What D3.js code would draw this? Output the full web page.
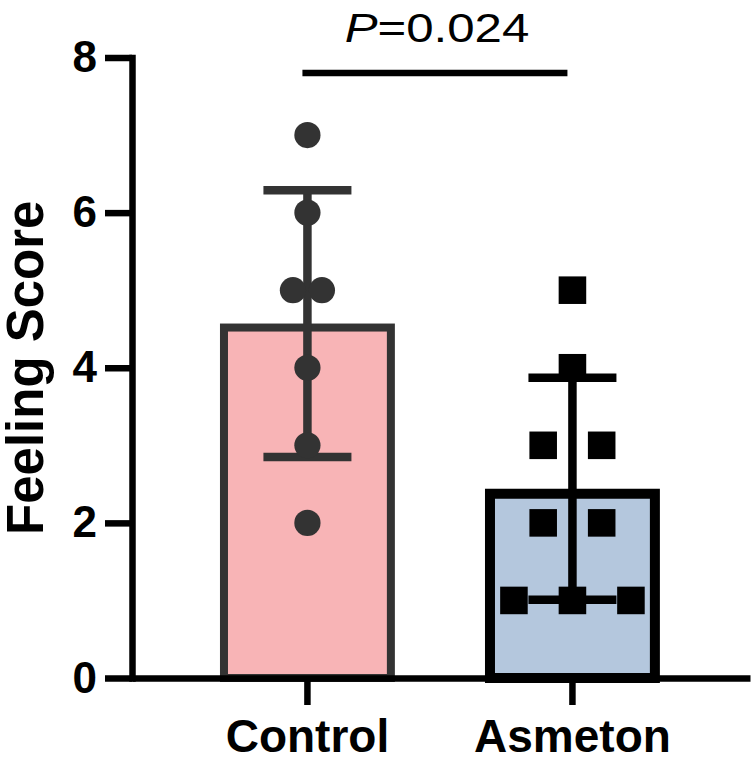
<!DOCTYPE html>
<html>
<head>
<meta charset="utf-8">
<script src="https://cdn.jsdelivr.net/npm/d3@7"></script>
<style>
  body { margin: 0; background: #fff; }
</style>
</head>
<body>
<div id="chart"></div>
<script>
// Data
const categories = ['Control', 'Asmeton']
const means = [4.57, 2.44]
const sds = [1.72, 1.43]
const controlScores = [7, 6, 5, 5, 4, 3, 2]
const asmetonScores = [5, 4, 3, 3, 2, 2, 1, 1, 1]
const yTicks = [0, 2, 4, 6, 8]
const pLabel = '=0.024'

// Styles per group
const styles = [
  { fill: '#f8b4b6', stroke: '#333333', strokeWidth: 8, symbol: d3.symbolCircle, size: 540, spread: 29 },
  { fill: '#b4c7dd', stroke: '#000000', strokeWidth: 10, symbol: d3.symbolSquare, size: 760, spread: 58.5 }
]

const width = 755
const height = 760
const font = '"Liberation Sans", Arial, sans-serif'

const svg = d3.select('#chart')
  .append('svg')
  .attr('width', width)
  .attr('height', height)
  .style('font-family', font)

// Scales
const yScale = d3.scaleLinear().domain([0, 8]).range([678, 57.5])
const xScale = d3.scaleBand()
  .domain(categories)
  .range([132, 750])
  .paddingInner(0.34)
  .paddingOuter(0.336)
  .align(0.494)

const groups = categories.map((c, i) => ({
  name: c,
  mean: means[i],
  sd: sds[i],
  scores: i === 0 ? controlScores : asmetonScores,
  style: styles[i]
}))

// Bars (stroke drawn inside the bar outline)
svg.append('g').selectAll('rect')
  .data(groups)
  .join('rect')
  .attr('x', d => xScale(d.name) + d.style.strokeWidth / 2)
  .attr('y', d => yScale(d.mean) + d.style.strokeWidth / 2)
  .attr('width', d => xScale.bandwidth() - d.style.strokeWidth)
  .attr('height', d => yScale(0) - yScale(d.mean) - d.style.strokeWidth / 2)
  .style('fill', d => d.style.fill)
  .style('stroke', d => d.style.stroke)
  .style('stroke-width', d => d.style.strokeWidth)

// Error bars (mean +/- SD)
const capHalf = 44
const gErr = svg.append('g')
groups.forEach(d => {
  const cx = xScale(d.name) + xScale.bandwidth() / 2
  const top = yScale(d.mean + d.sd)
  const bot = yScale(d.mean - d.sd)
  const g = gErr.append('g')
    .style('stroke', d.style.stroke)
    .style('stroke-width', 8.5)
  g.append('line').attr('x1', cx).attr('x2', cx).attr('y1', top).attr('y2', bot)
  g.append('line').attr('x1', cx - capHalf).attr('x2', cx + capHalf).attr('y1', top).attr('y2', top)
  g.append('line').attr('x1', cx - capHalf).attr('x2', cx + capHalf).attr('y1', bot).attr('y2', bot)
})

// Individual points, spread sideways when values repeat
const gPts = svg.append('g')
groups.forEach(d => {
  const cx = xScale(d.name) + xScale.bandwidth() / 2
  const counts = d3.rollup(d.scores, v => v.length, v => v)
  const seen = new Map()
  const pts = d.scores.map(v => {
    const n = counts.get(v)
    const k = seen.get(v) || 0
    seen.set(v, k + 1)
    return { v, x: cx + (k - (n - 1) / 2) * d.style.spread }
  })
  gPts.selectAll(null)
    .data(pts)
    .join('path')
    .attr('transform', p => `translate(${p.x},${yScale(p.v)})`)
    .attr('d', d3.symbol().type(d.style.symbol).size(d.style.size))
    .style('fill', d.style.stroke)
})

// Axes
const lAxis = svg.append('g')
  .attr('transform', 'translate(132,0)')
  .call(d3.axisLeft(yScale).tickValues(yTicks).tickFormat(d3.format('d')).tickSize(27).tickPadding(8).tickSizeOuter(0))
lAxis.select('.domain').style('stroke-width', 6.5).style('stroke-linecap', 'square')
lAxis.selectAll('.tick line').style('stroke-width', 6.5)
lAxis.selectAll('.tick text')
  .style('font-family', font)
  .style('font-size', '44px')
  .style('font-weight', 'bold')
  .style('fill', '#000')

const bAxis = svg.append('g')
  .attr('transform', `translate(0,${yScale(0)})`)
  .call(d3.axisBottom(xScale).tickSize(27).tickPadding(14).tickSizeOuter(0))
bAxis.select('.domain').style('stroke-width', 6.5)
bAxis.selectAll('.tick line').style('stroke-width', 6.5)
bAxis.selectAll('.tick text')
  .style('font-family', font)
  .style('font-size', '46px')
  .style('font-weight', 'bold')
  .style('fill', '#000')

// Axis title
svg.append('text')
  .attr('transform', `translate(43,${(yScale(0) + yScale(8)) / 2}) rotate(-90)`)
  .style('text-anchor', 'middle')
  .style('font-size', '51px')
  .style('font-weight', 'bold')
  .text('Feeling Score')

// Significance bracket
const x0 = xScale(categories[0]) + xScale.bandwidth() / 2
const x1 = xScale(categories[1]) + xScale.bandwidth() / 2
svg.append('line')
  .attr('x1', x0 - 5).attr('x2', x1 - 5)
  .attr('y1', 73).attr('y2', 73)
  .style('stroke', '#000')
  .style('stroke-width', 6.5)

// P value text, slightly stretched horizontally like the reference
const pText = svg.append('text')
  .attr('transform', `translate(${(x0 + x1) / 2 - 3},42) scale(1.2,1)`)
  .style('text-anchor', 'middle')
  .style('font-size', '41px')
pText.append('tspan').style('font-style', 'italic').text('P')
pText.append('tspan').text(pLabel)
</script>
</body>
</html>
